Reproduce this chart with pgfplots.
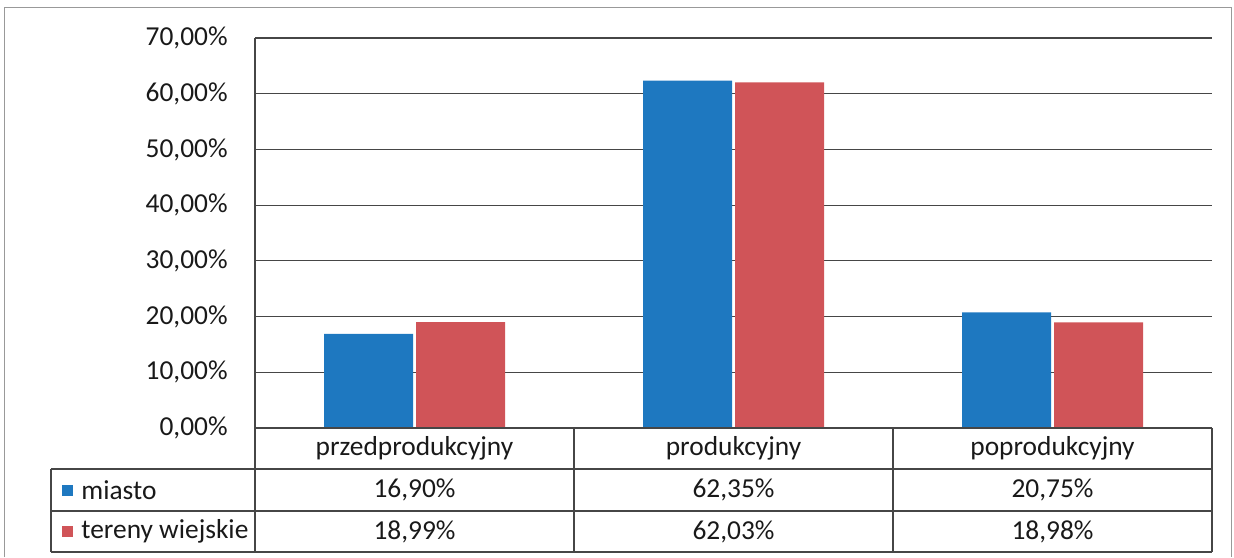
\documentclass[border=0pt]{standalone}
\usepackage{fontspec}
\setmainfont{Carlito}
\usepackage{pgfplots}
\pgfplotsset{compat=1.18}
\definecolor{miasto}{RGB}{30,120,192}
\definecolor{wies}{RGB}{208,84,88}
\definecolor{linia}{RGB}{70,70,70}
\newcommand{\lbl}{\fontsize{13.7}{16.4}\selectfont}
\begin{document}
\lbl
\begin{tikzpicture}[x=1pt,y=1pt]
\useasboundingbox (-127.5,-64.5) rectangle (489.5,214);
% outer frame (cut at the bottom of the scan)
\draw[black!40, line width=0.5pt] (-125,-64.5) -- (-125,210) -- (488,210) -- (488,-64.5);
\begin{axis}[at={(0,0)}, anchor=south west, scale only axis,
  width=478.5pt, height=195pt,
  xmin=-0.5, xmax=2.5, ymin=0, ymax=70,
  ytick={0,10,...,70},
  axis x line=none, axis y line*=left,
  axis line style={linia, line width=0.6pt},
  ytick style={draw=none},
  ymajorgrids, grid style={linia, line width=0.6pt},
  /pgf/number format/.cd, fixed, fixed zerofill, precision=2, use comma,
    assume math mode=true, /pgfplots/.cd,
  yticklabel={\pgfmathprintnumber{\tick}\%},
  yticklabel style={font=\lbl, text=black!90, inner sep=0pt, xshift=-13.5pt},
  ybar, bar width=0.279, clip=false]
\addplot[fill=miasto, draw=none, bar shift=-0.1442]
  coordinates {(0,16.90) (1,62.35) (2,20.75)};
\addplot[fill=wies, draw=none, bar shift=0.1442]
  coordinates {(0,18.99) (1,62.03) (2,18.98)};
\end{axis}
% data table below the axis
\begin{scope}[linia, line width=0.6pt]
\draw (0,0) -- (478.5,0);
\foreach \y in {-20.5,-41.5,-62} \draw (-102,\y) -- (478.5,\y);
\draw (-102,-20.5) -- (-102,-62);
\foreach \x in {0,159.5,319,478.5} \draw (\x,0) -- (\x,-62);
\end{scope}
\begin{scope}[text=black!90, font=\lbl]
\node at (79.75,-10.25) {przedprodukcyjny};
\node at (239.25,-10.25) {produkcyjny};
\node at (398.75,-10.25) {poprodukcyjny};
\fill[miasto] (-96.5,-34) rectangle (-91,-28.5);
\node[anchor=west, inner sep=0pt] at (-87,-31) {miasto};
\fill[wies] (-96.5,-54.5) rectangle (-91,-49);
\node[anchor=west, inner sep=0pt] at (-87,-51.75) {tereny wiejskie};
\node at (79.75,-31) {16,90\%};
\node at (239.25,-31) {62,35\%};
\node at (398.75,-31) {20,75\%};
\node at (79.75,-51.75) {18,99\%};
\node at (239.25,-51.75) {62,03\%};
\node at (398.75,-51.75) {18,98\%};
\end{scope}
\end{tikzpicture}
\end{document}
